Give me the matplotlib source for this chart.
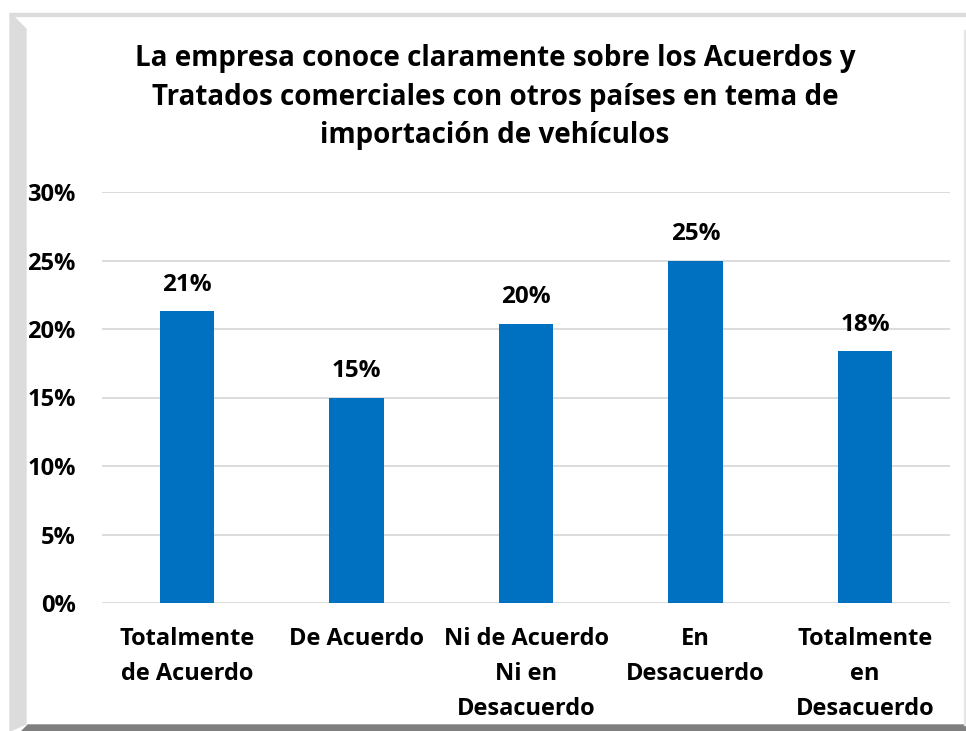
#Bar chart: conocimiento de Acuerdos y Tratados comerciales
import matplotlib.pyplot as plt
from matplotlib.patches import Polygon

categorias = ['Totalmente\nde Acuerdo', 'De Acuerdo', 'Ni de Acuerdo\nNi en\nDesacuerdo',
              'En\nDesacuerdo', 'Totalmente\nen\nDesacuerdo']
valores = [0.213, 0.150, 0.204, 0.250, 0.184]
etiquetas = ['21%', '15%', '20%', '25%', '18%']
ticks_y = [0, 0.05, 0.10, 0.15, 0.20, 0.25, 0.30]
ticks_y_txt = ['0%', '5%', '10%', '15%', '20%', '25%', '30%']
titulo = ('La empresa conoce claramente sobre los Acuerdos y\n'
          'Tratados comerciales con otros países en tema de\n'
          'importación de vehículos')

plt.rcParams['font.family'] = ['Open Sans', 'DejaVu Sans']
plt.rcParams['font.weight'] = 'bold'

W, H = 966, 731
fig = plt.figure(figsize=(W / 100, H / 100), dpi=100)

# marco con efecto de bisel
def px(x, y):
    return (x / W, 1 - y / H)

fig.patches.append(Polygon([px(10, 13), px(966, 13), px(966, 16), px(10, 16)],
                           closed=True, transform=fig.transFigure, color='#dcdcdc', zorder=0))
fig.patches.append(Polygon([px(10, 13), px(26, 29), px(26, 724), px(10, 731)],
                           closed=True, transform=fig.transFigure, color='#dcdcdc', zorder=0))
fig.patches.append(Polygon([px(22, 731), px(28, 725), px(966, 725), px(966, 731)],
                           closed=True, transform=fig.transFigure, color='#7f7f7f', zorder=0))
fig.patches.append(Polygon([px(964, 30), px(966, 30), px(966, 725), px(964, 725)],
                           closed=True, transform=fig.transFigure, color='#e6e6e6', zorder=0))

ax = fig.add_axes([102 / W, 1 - 603 / H, 848 / W, (603 - 192) / H])
x = range(len(categorias))
ax.bar(x, valores, width=0.32, color='#0070C0', zorder=3)
for i, (v, t) in enumerate(zip(valores, etiquetas)):
    ax.text(i, v + 0.019, t, ha='center', va='center', fontsize=17.5, fontweight='bold')

ax.set_xlim(-0.5, len(categorias) - 0.5)
ax.set_ylim(0, 0.30)
ax.set_yticks(ticks_y)
ax.set_yticklabels(ticks_y_txt, fontsize=17, fontweight='bold')
ax.set_xticks(list(x))
ax.set_xticklabels(categorias, fontsize=17, fontweight='bold', linespacing=1.62, va='top')
ax.tick_params(axis='y', length=0, pad=19)
ax.tick_params(axis='x', length=0, pad=17)
ax.yaxis.grid(True, color='#d9d9d9', linewidth=1.3, zorder=0)
for s in ax.spines.values():
    s.set_visible(False)
ax.patch.set_alpha(0)

fig.text(495 / W, 1 - 97 / H, titulo, ha='center', va='center', fontsize=20,
         fontweight='bold', linespacing=1.42)

plt.savefig('out.png', dpi=100)
